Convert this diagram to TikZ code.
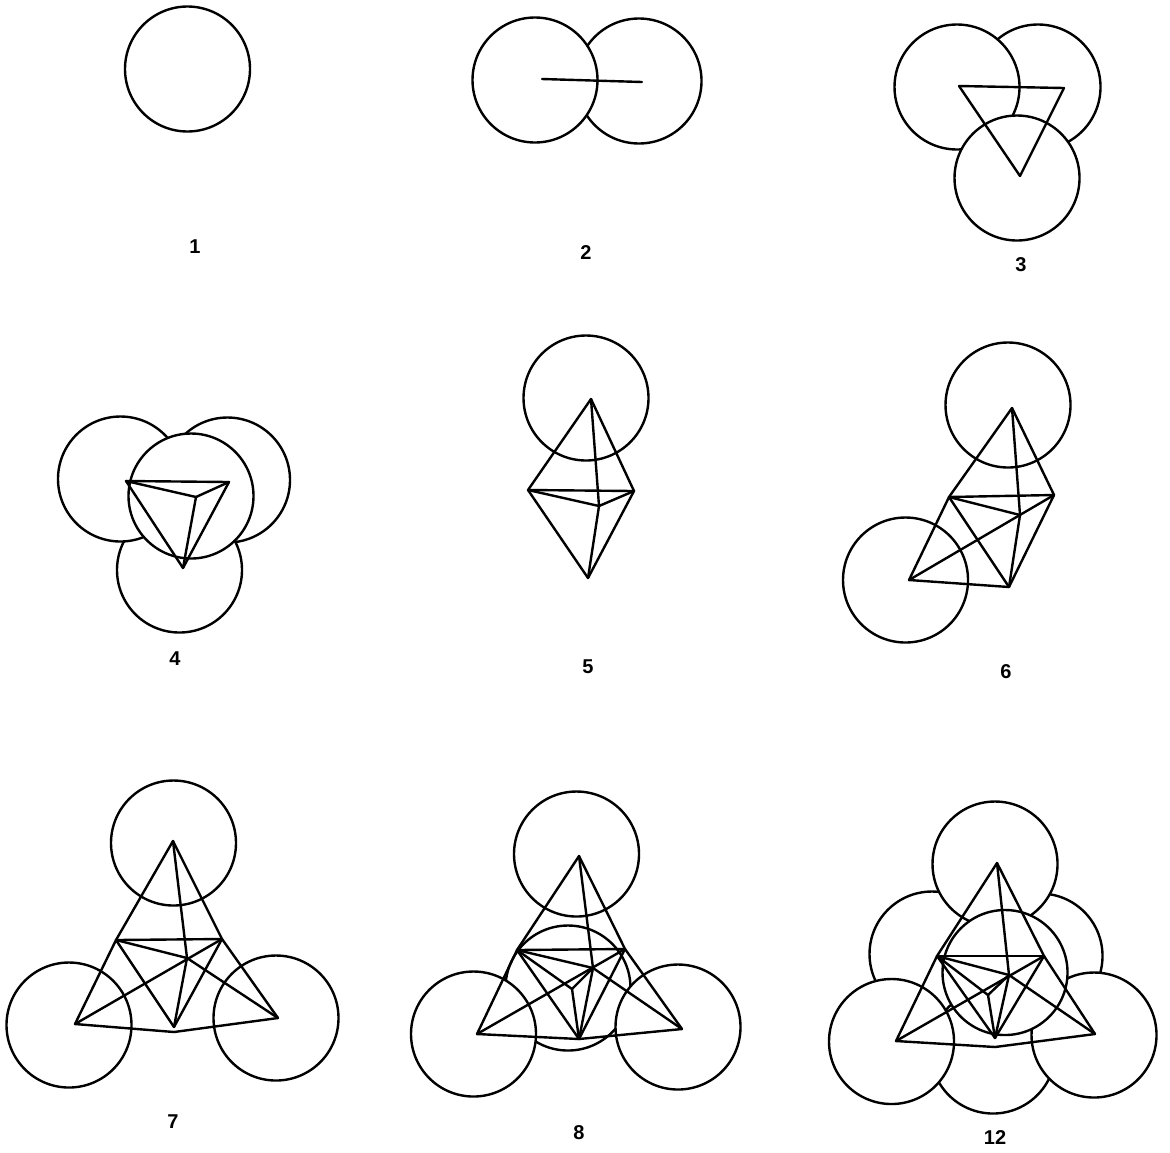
\documentclass[tikz,border=0pt]{standalone}
\usepackage{tikz}
\usepackage{fontspec}
\setmainfont{Liberation Sans}
\tikzset{
  disc/.style={circle, draw, fill=white, line width=1.2pt, inner sep=0pt, outer sep=0pt, minimum size=62.5pt},
  num/.style={font=\bfseries\fontsize{10}{12}\selectfont, inner sep=0pt}
}

\begin{document}
\begin{tikzpicture}[x=0.5pt,y=-0.5pt,line width=1.2pt,line cap=round,line join=round]
\useasboundingbox (0,0) rectangle (1170,1152);

% first row
\node[disc] (1a) at (187.5,69) {};
\node[num] (1n) at (195,247) {1};

\node[disc] (2b) at (639,81) {};
\node[disc] (2a) at (535,80) {};
\coordinate (2l) at (542,79);
\coordinate (2r) at (642,82);
\node[num] (2n) at (586,253) {2};
\path [-] (2l) edge (2r);

\node[disc] (3b) at (1038,87) {};
\node[disc] (3a) at (957,87) {};
\node[disc] (3c) at (1017,178) {};
\coordinate (3l) at (959,86);
\coordinate (3r) at (1064,88);
\coordinate (3d) at (1020,176);
\node[num] (3n) at (1021,265) {3};
\path [-] (3l) edge (3r)
          (3r) edge (3d)
          (3d) edge (3l);

% second row
\node[disc] (4b) at (227.5,480) {};
\node[disc] (4c) at (179.5,570) {};
\node[disc] (4a) at (120.5,479) {};
\node[disc] (4e) at (191,496) {};
\coordinate (4l) at (126,481);
\coordinate (4r) at (229,482);
\coordinate (4d) at (183,568);
\coordinate (4m) at (196,497);
\node[num] (4n) at (175,659) {4};
\path [-] (4l) edge (4r)
          (4l) edge (4m)
          (4r) edge (4m)
          (4m) edge (4d)
          (4l) edge (4d)
          (4r) edge (4d);

\node[disc] (5a) at (586,398) {};
\coordinate (5t) at (591,399);
\coordinate (5l) at (528,490);
\coordinate (5r) at (634,491);
\coordinate (5d) at (588,578);
\coordinate (5m) at (599,506);
\node[num] (5n) at (588,667) {5};
\path [-] (5t) edge (5l)
          (5t) edge (5r)
          (5t) edge (5m)
          (5l) edge (5d)
          (5r) edge (5d)
          (5l) edge (5r)
          (5l) edge (5m)
          (5r) edge (5m)
          (5m) edge (5d);

\node[disc] (6a) at (1008,405) {};
\node[disc] (6b) at (905.5,580) {};
\coordinate (6t) at (1012,408);
\coordinate (6l) at (949,497);
\coordinate (6r) at (1054,495);
\coordinate (6p) at (909,580);
\coordinate (6d) at (1009,587);
\coordinate (6m) at (1020,515);
\node[num] (6n) at (1006,672) {6};
\path [-] (6t) edge (6l)
          (6l) edge (6p)
          (6t) edge (6r)
          (6r) edge (6d)
          (6t) edge (6m)
          (6l) edge (6r)
          (6l) edge (6m)
          (6r) edge (6p)
          (6l) edge (6d)
          (6m) edge (6d)
          (6p) edge (6d);

% third row
\node[disc] (7a) at (173.5,843) {};
\node[disc] (7b) at (69,1025) {};
\node[disc] (7c) at (276,1018) {};
\coordinate (7t) at (173,841);
\coordinate (7l) at (116,940);
\coordinate (7r) at (222,939);
\coordinate (7p) at (75,1024);
\coordinate (7q) at (278,1018);
\coordinate (7u) at (174,1032);
\coordinate (7d) at (174,1027);
\coordinate (7m) at (187,958);
\node[num] (7n) at (173,1122) {7};
\path [-] (7t) edge (7l)
          (7l) edge (7p)
          (7t) edge (7r)
          (7r) edge (7q)
          (7t) edge (7m)
          (7l) edge (7r)
          (7p) edge (7r)
          (7l) edge (7m)
          (7m) edge (7q)
          (7l) edge (7d)
          (7r) edge (7d)
          (7m) edge (7d)
          (7p) edge (7u)
          (7u) edge (7q);

\node[disc] (8d) at (568,988) {};
\node[disc] (8a) at (576.5,854) {};
\node[disc] (8b) at (473.5,1034) {};
\node[disc] (8c) at (678,1027) {};
\coordinate (8t) at (579,856);
\coordinate (8l) at (517,950);
\coordinate (8r) at (625,949);
\coordinate (8p) at (477,1034);
\coordinate (8q) at (682,1029);
\coordinate (8u) at (579,1039);
\coordinate (8m) at (593,968);
\coordinate (8i) at (572,989);
\node[num] (8n) at (579,1133) {8};
\path [-] (8t) edge (8l)
          (8l) edge (8p)
          (8t) edge (8r)
          (8r) edge (8q)
          (8t) edge (8m)
          (8l) edge (8r)
          (8p) edge (8r)
          (8l) edge (8m)
          (8m) edge (8q)
          (8m) edge (8u)
          (8l) edge (8u)
          (8r) edge (8u)
          (8l) edge (8i)
          (8i) edge (8u)
          (8i) edge (8m)
          (8p) edge (8u)
          (8u) edge (8q);

\node[disc] (12e) at (932,954) {};
\node[disc] (12f) at (1040,956) {};
\node[disc] (12d) at (993,1051) {};
\node[disc] (12b) at (891.5,1041.5) {};
\node[disc] (12c) at (1094,1035) {};
\node[disc] (12a) at (995,864) {};
\node[disc] (12g) at (1005,972.5) {};
\coordinate (12t) at (997,863);
\coordinate (12l) at (937,956);
\coordinate (12r) at (1044,956);
\coordinate (12p) at (896,1041);
\coordinate (12q) at (1095,1034);
\coordinate (12u) at (995,1047);
\coordinate (12v) at (995,1038);
\coordinate (12m) at (1009,975);
\coordinate (12i) at (988,995);
\node[num] (12n) at (995,1137) {12};
\path [-] (12t) edge (12l)
          (12l) edge (12p)
          (12t) edge (12r)
          (12r) edge (12q)
          (12t) edge (12m)
          (12l) edge (12r)
          (12p) edge (12r)
          (12l) edge (12m)
          (12m) edge (12q)
          (12m) edge (12v)
          (12l) edge (12v)
          (12r) edge (12v)
          (12l) edge (12i)
          (12i) edge (12v)
          (12i) edge (12m)
          (12p) edge (12u)
          (12u) edge (12q);
\end{tikzpicture}
\end{document}
